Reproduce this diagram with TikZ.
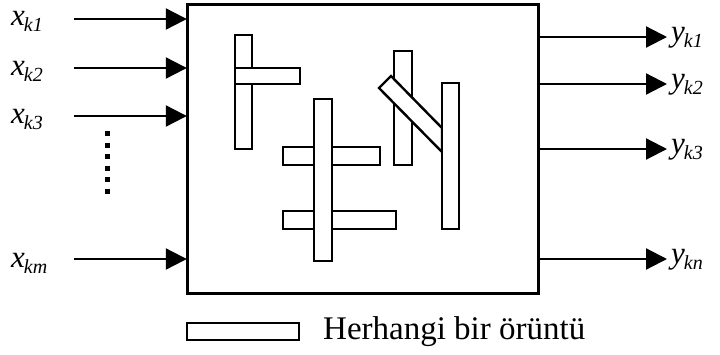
\documentclass[tikz,border=0pt]{standalone}
\usepackage{fontspec}
\setmainfont{Liberation Serif}
\usetikzlibrary{arrows.meta}
\newcommand{\sig}[3]{{\fontsize{31}{31}\selectfont\itshape #1\kern-1pt\raisebox{-6pt}{\fontsize{20}{20}\selectfont\itshape #2#3}}}
\tikzset{
  frame/.style={draw, line width=3pt, fill=white},
  bar/.style={draw, line width=2.4pt, fill=white},
  sigarrow/.style={line width=2.2pt, -{Triangle[length=21pt,width=21pt]}},
  lbl/.style={inner sep=0pt, anchor=base west},
}
\begin{document}
\begin{tikzpicture}[x=1pt,y=-1pt]
\useasboundingbox (0,0) rectangle (720,354);

% processing block
\draw[frame] (187,4) rectangle (538,293);
\node[inner sep=0pt, minimum width=351pt, minimum height=289pt] (box) at (362.5,148.5) {};

% patterns inside the block
\draw[bar] (235,35) rectangle (252,149);
\draw[bar] (235,68) rectangle (300,84);
\draw[bar] (283,147) rectangle (380,165);
\draw[bar] (283,211) rectangle (396,229);
\draw[bar] (314,99) rectangle (332,261);
\draw[bar] (394,51) rectangle (412,165);
\draw[bar] (379,88) -- (391,76) -- (442,128) -- (442,152) -- cycle;
\draw[bar] (442,83) rectangle (459,229);

% inputs
\coordinate (i1) at (74,19);
\coordinate (i2) at (74,68);
\coordinate (i3) at (74,116);
\coordinate (im) at (74,259);
\foreach \c in {i1,i2,i3,im}
  \draw[sigarrow] (\c) -- (box.west |- \c);
\node[lbl] (lx1) at (11,25) {\sig{x}{k}{1}};
\node[lbl] (lx2) at (11,75) {\sig{x}{k}{2}};
\node[lbl] (lx3) at (11,123) {\sig{x}{k}{3}};
\node[lbl] (lxm) at (11,267) {\sig{x}{k}{m}};

% ellipsis between the inputs
\coordinate (d1) at (107,131);
\coordinate (d2) at (107,197);
\draw[line width=5pt, dash pattern=on 5pt off 6.5pt] (d1) -- (d2);

% outputs
\coordinate (o1) at (667,37);
\coordinate (o2) at (667,84);
\coordinate (o3) at (667,149);
\coordinate (on) at (667,259);
\foreach \c in {o1,o2,o3,on}
  \draw[sigarrow] (box.east |- \c) -- (\c);
\node[lbl] (ly1) at (671,41) {\sig{y}{k}{1}};
\node[lbl] (ly2) at (671,88) {\sig{y}{k}{2}};
\node[lbl] (ly3) at (671,153) {\sig{y}{k}{3}};
\node[lbl] (lyn) at (671,263) {\sig{y}{k}{n}};

% legend
\draw[bar] (187,323) rectangle (299,340);
\node[lbl, font=\fontsize{33}{33}\selectfont] (leg) at (323,339) {Herhangi bir örüntü};
\end{tikzpicture}
\end{document}
